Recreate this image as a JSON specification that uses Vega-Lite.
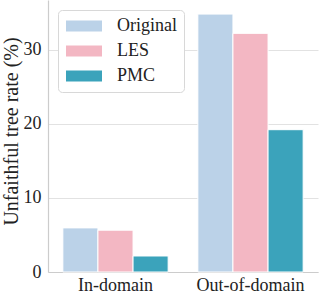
{
  "$schema": "https://vega.github.io/schema/vega-lite/v6.json",
  "width": 270,
  "height": 272,
  "autosize": "none",
  "padding": {"left": 48, "top": 0, "right": 1, "bottom": 22},
  "config": {
    "font": "Liberation Serif",
    "view": {"stroke": null},
    "axis": {
      "labelFont": "Liberation Serif",
      "titleFont": "Liberation Serif",
      "labelFontSize": 18,
      "labelColor": "#222222",
      "titleColor": "#222222",
      "domainColor": "#cccccc",
      "domainWidth": 1.2,
      "gridColor": "#e2e2e2",
      "ticks": false
    }
  },
  "data": {
    "values": [
      {"domain": "In-domain", "method": "Original", "rate": 5.95},
      {"domain": "In-domain", "method": "LES", "rate": 5.64},
      {"domain": "In-domain", "method": "PMC", "rate": 2.16},
      {"domain": "Out-of-domain", "method": "Original", "rate": 34.8},
      {"domain": "Out-of-domain", "method": "LES", "rate": 32.2},
      {"domain": "Out-of-domain", "method": "PMC", "rate": 19.2}
    ]
  },
  "mark": {"type": "bar", "stroke": "white", "strokeWidth": 1},
  "encoding": {
    "x": {
      "field": "domain",
      "type": "nominal",
      "sort": ["In-domain", "Out-of-domain"],
      "scale": {"paddingInner": 0.22, "paddingOuter": 0.11},
      "axis": {"title": null, "labelAngle": 0, "labelPadding": 4, "grid": false}
    },
    "xOffset": {
      "field": "method",
      "type": "nominal",
      "sort": ["Original", "LES", "PMC"],
      "scale": {"paddingInner": 0, "paddingOuter": 0}
    },
    "y": {
      "field": "rate",
      "type": "quantitative",
      "scale": {"domain": [0, 36.7], "nice": false},
      "axis": {
        "title": "Unfaithful tree rate (%)",
        "values": [0, 10, 20, 30],
        "titleFontSize": 20,
        "titleFontWeight": "normal",
        "titleAngle": -90,
        "titleAlign": "center",
        "titleBaseline": "middle",
        "titleX": -37,
        "titleY": 131,
        "labelPadding": 7,
        "grid": true
      }
    },
    "color": {
      "field": "method",
      "type": "nominal",
      "sort": ["Original", "LES", "PMC"],
      "scale": {"domain": ["Original", "LES", "PMC"], "range": ["#bbd2e8", "#f3b7c3", "#3ba3bb"]},
      "legend": {
        "title": null,
        "orient": "none",
        "legendX": 10,
        "legendY": 10,
        "padding": 7,
        "fillColor": "white",
        "strokeColor": "#d8d8d8",
        "cornerRadius": 4,
        "symbolType": "M-2,-0.62H2V0.62H-2Z",
        "symbolSize": 324,
        "symbolOffset": 10,
        "symbolStrokeWidth": 0,
        "symbolOpacity": 1,
        "labelFont": "Liberation Serif",
        "labelFontSize": 18,
        "labelColor": "#222222",
        "labelOffset": 24,
        "rowPadding": 7
      }
    }
  }
}
